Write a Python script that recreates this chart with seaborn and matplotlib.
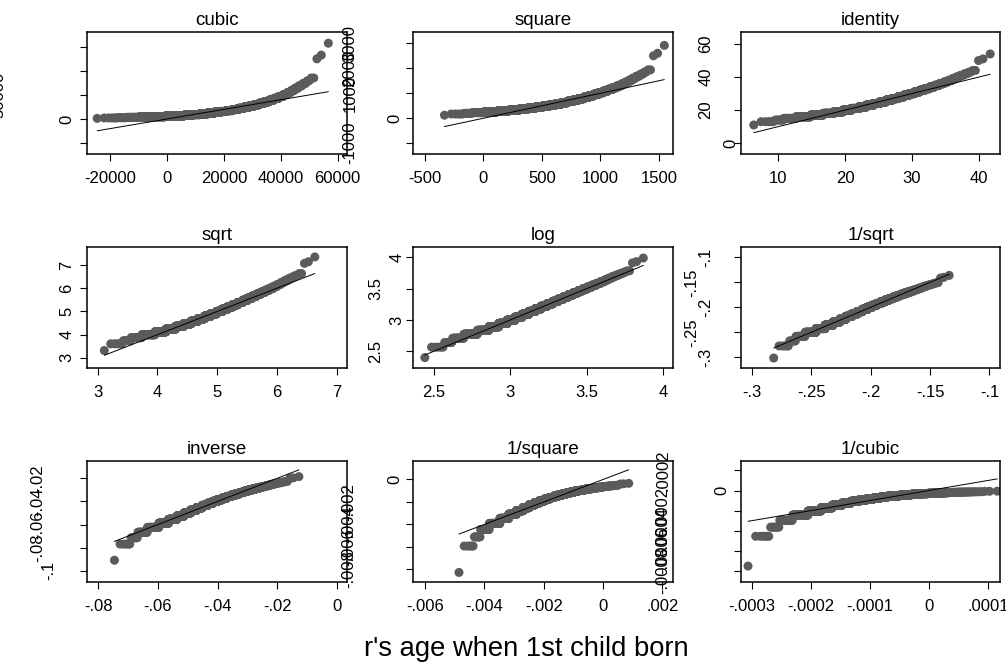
import numpy as np
import pandas as pd
import matplotlib
matplotlib.use("Agg")
import matplotlib.pyplot as plt
import matplotlib.transforms as mtransforms
import seaborn as sns
from statistics import NormalDist

# ---------------- data ----------------
ages = [11, 13, 14, 15, 16, 17, 18, 19, 20, 21, 22, 23, 24, 25, 26, 27, 28, 29,
        30, 31, 32, 33, 34, 35, 36, 37, 38, 39, 40, 41, 42, 43, 44, 50, 51, 54]
counts = [1, 5, 7, 20, 52, 82, 110, 126, 140, 148, 150, 146, 138, 128, 115, 101, 87, 74,
          62, 51, 41, 33, 26, 20, 15, 11, 8, 6, 5, 4, 3, 2, 2, 1, 1, 1]

panel_titles = ["cubic", "square", "identity", "sqrt", "log", "1/sqrt",
                "inverse", "1/square", "1/cubic"]

x_ticks = [[-20000, 0, 20000, 40000, 60000], [-500, 0, 500, 1000, 1500], [10, 20, 30, 40],
           [3, 4, 5, 6, 7], [2.5, 3, 3.5, 4], [-.3, -.25, -.2, -.15, -.1],
           [-.08, -.06, -.04, -.02, 0], [-.006, -.004, -.002, 0, .002],
           [-.0003, -.0002, -.0001, 0, .0001]]
x_tick_labels = [["-20000", "0", "20000", "40000", "60000"], ["-500", "0", "500", "1000", "1500"],
                 ["10", "20", "30", "40"], ["3", "4", "5", "6", "7"], ["2.5", "3", "3.5", "4"],
                 ["-.3", "-.25", "-.2", "-.15", "-.1"], ["-.08", "-.06", "-.04", "-.02", "0"],
                 ["-.006", "-.004", "-.002", "0", ".002"],
                 ["-.0003", "-.0002", "-.0001", "0", ".0001"]]
y_ticks = [[-50000, 0, 50000, 100000, 150000], [-1000, 0, 1000, 2000, 3000], [0, 20, 40, 60],
           [3, 4, 5, 6, 7], [2.5, 3, 3.5, 4], [-.3, -.25, -.2, -.15, -.1],
           [-.1, -.08, -.06, -.04, -.02], [-.008, -.006, -.004, -.002, 0],
           [-.0008, -.0006, -.0004, -.0002, 0, .0002]]
y_tick_labels = [["-50000", "0", "50000", "100000", "150000"], ["-1000", "0", "1000", "2000", "3000"],
                 ["0", "20", "40", "60"], ["3", "4", "5", "6", "7"], ["2.5", "3", "3.5", "4"],
                 ["-.3", "-.25", "-.2", "-.15", "-.1"], ["-.1", "-.08", "-.06", "-.04", "-.02"],
                 ["-.008", "-.006", "-.004", "-.002", "0"],
                 ["-.0008", "-.0006", "-.0004", "-.0002", "0", ".0002"]]
x_title = "r's age when 1st child born"

# ---------------- layout / style ----------------
W, H = 1006, 665
col_left = [87.3, 413.3, 740.7]
row_top = [32.3, 246.7, 460.7]
box_w, box_h = 259.5, 121.6

xlims = [(-28000, 63200), (-600, 1619), (4.39, 43.2), (2.825, 7.17), (2.3645, 4.0635),
         (-0.30923, -0.091), (-0.0837, 0.00337), (-0.00639, 0.002347), (-0.0003186, 0.000121)]
ylims = [(-72500, 180100), (-1428, 3440), (-6.5, 67.1), (2.55, 7.79), (2.227, 4.17),
         (-0.3221, -0.0787), (-0.11, -0.00476), (-0.00914, 0.00167), (-0.000913, 0.000297)]

# horizontal pixel centre of each (rotated) y tick label, as drawn by Stata
ylab_px = [[-200, 67, -1, -200, -200], [350, 395, 350, 350, 350], [731, 706, 706, 706],
           [67, 67, 67, 67, 67], [376, 397, 376, 397], [706, 692, 706, 692, 706],
           [49, 38, 38, 38, 38], [349, 349, 349, 349, 395], [663, 663, 663, 663, 722, 663]]

transforms = {
    "cubic": lambda a: a ** 3, "square": lambda a: a ** 2, "identity": lambda a: a,
    "sqrt": np.sqrt, "log": np.log, "1/sqrt": lambda a: -1 / np.sqrt(a),
    "inverse": lambda a: -1 / a, "1/square": lambda a: -1 / a ** 2,
    "1/cubic": lambda a: -1 / a ** 3,
}

sns.set_style("ticks")
plt.rcParams["font.family"] = ["Liberation Sans", "DejaVu Sans"]
plt.rcParams["axes.linewidth"] = 1.1
plt.rcParams["xtick.major.size"] = 5
plt.rcParams["ytick.major.size"] = 5
plt.rcParams["xtick.major.width"] = 0.8
plt.rcParams["ytick.major.width"] = 0.8
plt.rcParams["xtick.color"] = "black"
plt.rcParams["ytick.color"] = "black"
plt.rcParams["xtick.labelcolor"] = "black"
plt.rcParams["ytick.labelcolor"] = "black"
plt.rcParams["text.color"] = "black"
plt.rcParams["axes.titlecolor"] = "black"
plt.rcParams["axes.edgecolor"] = "black"

fig = plt.figure(figsize=(W / 100, H / 100), dpi=100)
fig.patch.set_facecolor("white")

age_values = np.repeat(np.array(ages, dtype=float), counts)
n = len(age_values)
nd = NormalDist()
zq = np.array([nd.inv_cdf(i / (n + 1)) for i in range(1, n + 1)])

for k, name in enumerate(panel_titles):
    r, c = divmod(k, 3)
    left = col_left[c] / W
    bottom = 1 - (row_top[r] + box_h) / H
    ax = fig.add_axes([left, bottom, box_w / W, box_h / H])
    yv = np.sort(transforms[name](age_values))
    xv = yv.mean() + yv.std(ddof=1) * zq
    df = pd.DataFrame({"x": xv, "y": yv})
    sns.scatterplot(data=df, x="x", y="y", ax=ax, s=42, color="#5b5b5b",
                    linewidth=0, edgecolor="none", zorder=2)
    ref = pd.DataFrame({"x": [xv.min(), xv.max()], "y": [xv.min(), xv.max()]})
    sns.lineplot(data=ref, x="x", y="y", ax=ax, color="black", linewidth=0.7, zorder=3)
    ax.set_xlim(*xlims[k])
    ax.set_ylim(*ylims[k])
    ax.set_xticks(x_ticks[k])
    ax.set_xticklabels(x_tick_labels[k], fontsize=12)
    ax.tick_params(axis="x", pad=7)
    ax.set_yticks(y_ticks[k])
    ax.set_yticklabels([])
    ax.set_xlabel("")
    ax.set_ylabel("")
    ax.set_title(name, fontsize=13.5, pad=5)
    for sp in ax.spines.values():
        sp.set_visible(True)
    tr = mtransforms.blended_transform_factory(fig.transFigure, ax.transData)
    for val, lab, px in zip(y_ticks[k], y_tick_labels[k], ylab_px[k]):
        if px < -50:
            continue
        ax.text(px / W, val, lab, transform=tr, rotation=90, ha="center", va="center",
                fontsize=12, clip_on=False)

fig.text(526 / W, 1 - 649 / H, x_title, ha="center", va="center", fontsize=19.7)

fig.savefig("out.png", dpi=100, facecolor="white")
